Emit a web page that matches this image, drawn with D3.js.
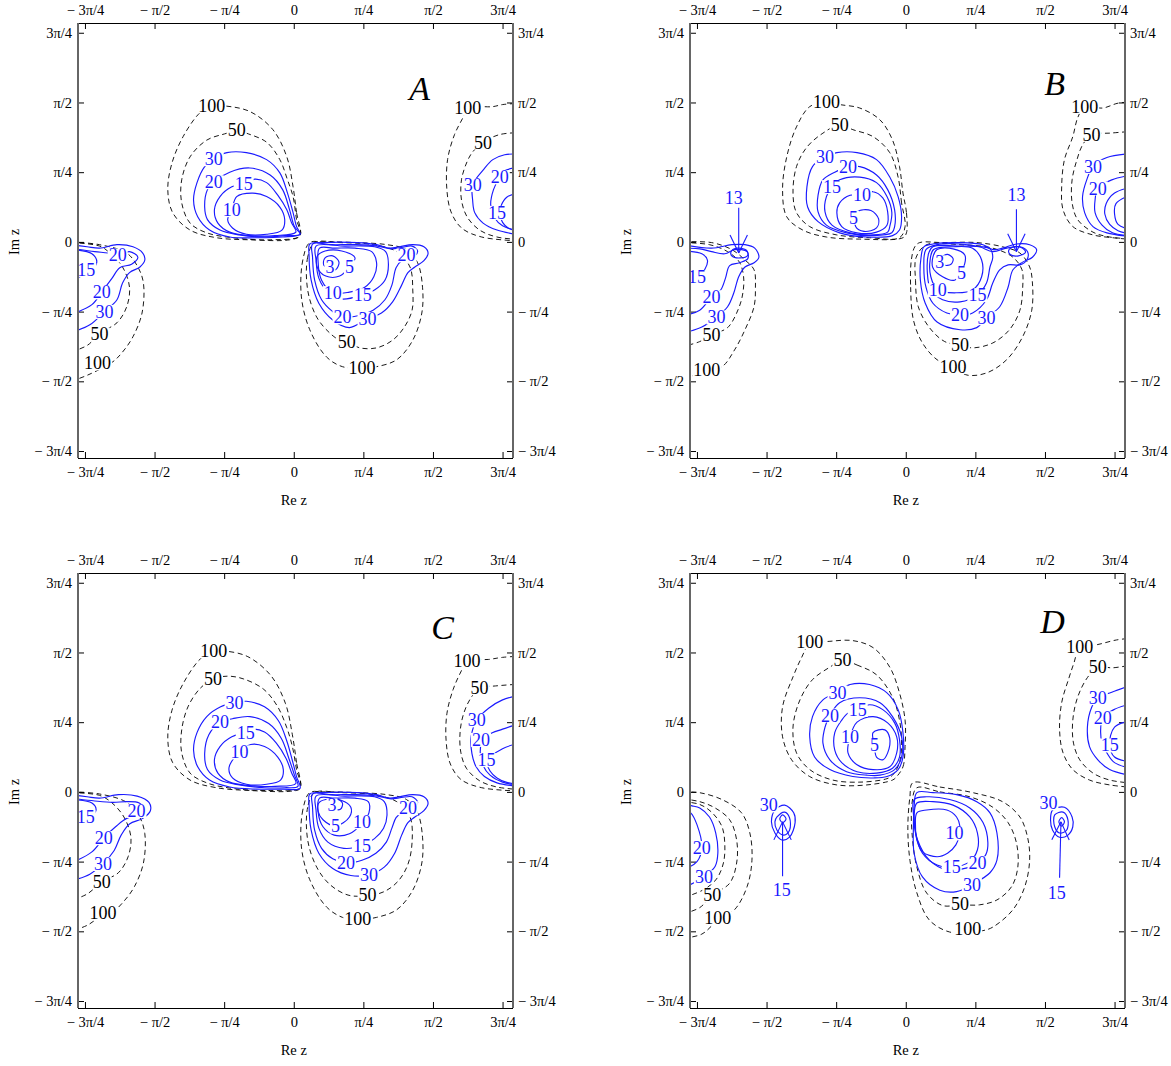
<!DOCTYPE html>
<html><head><meta charset="utf-8">
<script src="https://cdn.jsdelivr.net/npm/d3@7"></script>
<style>
body{margin:0;background:#fff}
svg{font-family:"Liberation Serif","Times New Roman",serif}
</style></head><body>
<svg id="chart" width="1171" height="1066"></svg>
<script>
// all coordinates are in units of pi/4
var tickVals = [-3,-2,-1,0,1,2,3];
var tickLabels = ["\u2212 3\u03c0/4","\u2212 \u03c0/2","\u2212 \u03c0/4","0","\u03c0/4","\u03c0/2","3\u03c0/4"];
var panelNames = ["A","B","C","D"];
var letterPos = [[1.81,2.21],[2.14,2.28],[2.14,2.37],[2.11,2.45]];

var contoursA = [
  // upper lobe
  {level:100, closed:true, labels:[[-1.18,1.95]], pts:[[0.09,0.09],[0.04,0.42],[-0.01,0.79],[-0.10,1.22],[-0.30,1.61],[-0.63,1.87],[-0.99,1.95],[-1.18,1.95],[-1.35,1.85],[-1.59,1.51],[-1.75,1.13],[-1.81,0.75],[-1.74,0.42],[-1.49,0.17],[-1.11,0.06],[-0.63,0.03],[-0.06,0.03]]},
  {level:50, closed:true, labels:[[-0.82,1.61]], pts:[[0.09,0.09],[0.04,0.32],[-0.01,0.65],[-0.09,0.89],[-0.20,1.18],[-0.39,1.43],[-0.68,1.56],[-0.82,1.61],[-0.96,1.56],[-1.25,1.46],[-1.49,1.22],[-1.61,0.89],[-1.61,0.56],[-1.49,0.27],[-1.25,0.13],[-0.88,0.06],[-0.34,0.03]]},
  {level:30, closed:true, labels:[[-1.15,1.19]], pts:[[0.09,0.11],[0.04,0.22],[-0.01,0.42],[-0.09,0.70],[-0.20,0.99],[-0.39,1.18],[-0.68,1.28],[-0.96,1.28],[-1.15,1.19],[-1.28,1.08],[-1.39,0.85],[-1.44,0.60],[-1.38,0.36],[-1.21,0.17],[-0.92,0.07],[-0.53,0.06],[-0.16,0.07]]},
  {level:20, closed:true, labels:[[-1.15,0.86]], pts:[[0.09,0.11],[0.01,0.22],[-0.06,0.46],[-0.16,0.75],[-0.34,0.96],[-0.63,1.06],[-0.92,1.00],[-1.15,0.86],[-1.24,0.75],[-1.28,0.50],[-1.24,0.32],[-1.06,0.17],[-0.78,0.10],[-0.42,0.07],[-0.13,0.09]]},
  {level:15, closed:true, labels:[[-0.72,0.83]], pts:[[0.03,0.14],[-0.03,0.27],[-0.10,0.46],[-0.23,0.67],[-0.39,0.85],[-0.56,0.90],[-0.72,0.83],[-0.89,0.79],[-1.06,0.65],[-1.14,0.46],[-1.09,0.27],[-0.92,0.14],[-0.63,0.09],[-0.27,0.09]]},
  {level:10, closed:true, labels:[[-0.89,0.46]], pts:[[-0.82,0.65],[-0.59,0.70],[-0.39,0.65],[-0.20,0.50],[-0.13,0.32],[-0.17,0.17],[-0.39,0.11],[-0.68,0.11],[-0.88,0.20],[-0.95,0.32],[-0.89,0.46]]},
  // lower lobe
  {level:100, closed:true, labels:[[0.98,-1.81]], pts:[[0.23,-0.01],[0.13,-0.26],[0.11,-0.79],[0.23,-1.26],[0.47,-1.65],[0.70,-1.79],[0.98,-1.81],[1.19,-1.79],[1.48,-1.69],[1.71,-1.41],[1.84,-1.02],[1.85,-0.65],[1.78,-0.30],[1.62,-0.11],[1.34,-0.04],[0.91,-0.01],[0.42,0.0]]},
  {level:50, closed:true, labels:[[0.76,-1.43]], pts:[[0.30,-0.01],[0.20,-0.22],[0.20,-0.69],[0.33,-1.08],[0.52,-1.31],[0.66,-1.41],[0.76,-1.43],[0.95,-1.52],[1.19,-1.52],[1.42,-1.41],[1.59,-1.22],[1.70,-0.98],[1.71,-0.69],[1.67,-0.36],[1.48,-0.14],[1.14,-0.04],[0.66,-0.01]]},
  {level:30, closed:true, labels:[[1.06,-1.10]], pts:[[0.23,-0.03],[0.22,-0.19],[0.25,-0.55],[0.36,-0.88],[0.56,-1.12],[0.80,-1.23],[1.06,-1.10],[1.26,-1.02],[1.42,-0.86],[1.55,-0.62],[1.64,-0.44],[1.74,-0.36],[1.87,-0.27],[1.93,-0.16],[1.87,-0.07],[1.71,-0.04],[1.52,-0.07],[1.38,-0.09],[1.19,-0.04],[0.91,-0.01],[0.42,-0.01]]},
  {level:20, closed:true, labels:[[0.70,-1.08],[1.62,-0.19]], pts:[[0.27,-0.03],[0.27,-0.22],[0.30,-0.55],[0.40,-0.83],[0.56,-1.00],[0.70,-1.08],[0.92,-1.06],[1.14,-0.98],[1.31,-0.83],[1.41,-0.62],[1.47,-0.37],[1.55,-0.27],[1.70,-0.23],[1.78,-0.13],[1.70,-0.06],[1.55,-0.08],[1.40,-0.10],[1.20,-0.06],[0.90,-0.04],[0.55,-0.04]]},
  {level:15, closed:true, labels:[[0.99,-0.76]], pts:[[0.32,-0.06],[0.32,-0.26],[0.36,-0.52],[0.49,-0.72],[0.69,-0.82],[0.99,-0.76],[1.16,-0.69],[1.31,-0.55],[1.36,-0.33],[1.32,-0.14],[1.16,-0.07],[0.73,-0.06]]},
  {level:10, closed:true, labels:[[0.56,-0.73]], pts:[[0.37,-0.09],[0.35,-0.29],[0.40,-0.55],[0.56,-0.73],[0.80,-0.72],[1.02,-0.65],[1.15,-0.50],[1.19,-0.30],[1.12,-0.14],[0.88,-0.09],[0.59,-0.09]]},
  {level:5, closed:true, labels:[[0.80,-0.36]], pts:[[0.34,-0.20],[0.45,-0.13],[0.69,-0.13],[0.88,-0.23],[0.80,-0.36],[0.66,-0.49],[0.46,-0.49],[0.34,-0.37]]},
  {level:3, closed:true, labels:[[0.52,-0.36]], pts:[[0.45,-0.23],[0.56,-0.20],[0.65,-0.29],[0.60,-0.40],[0.52,-0.38],[0.43,-0.33]]},
  // left edge
  {level:100, closed:false, labels:[[-2.82,-1.74]], pts:[[-3.2,0.0],[-2.79,-0.04],[-2.40,-0.16],[-2.24,-0.36],[-2.16,-0.59],[-2.18,-1.02],[-2.31,-1.36],[-2.46,-1.58],[-2.60,-1.72],[-2.96,-1.91],[-3.2,-2.0]]},
  {level:50, closed:false, labels:[[-2.79,-1.32]], pts:[[-3.2,-0.01],[-2.79,-0.06],[-2.64,-0.16],[-2.46,-0.36],[-2.36,-0.65],[-2.40,-0.93],[-2.54,-1.16],[-2.79,-1.31],[-2.96,-1.48],[-3.2,-1.58]]},
  {level:30, closed:false, labels:[[-2.72,-1.00]], pts:[[-3.2,-0.04],[-2.97,-0.07],[-2.79,-0.09],[-2.54,-0.04],[-2.31,-0.07],[-2.17,-0.16],[-2.14,-0.26],[-2.21,-0.36],[-2.36,-0.44],[-2.46,-0.59],[-2.54,-0.83],[-2.72,-1.00],[-2.93,-1.19],[-3.2,-1.30]]},
  {level:20, closed:false, labels:[[-2.53,-0.19],[-2.76,-0.72]], pts:[[-3.2,-0.09],[-2.86,-0.14],[-2.67,-0.16],[-2.53,-0.19],[-2.36,-0.14],[-2.24,-0.22],[-2.33,-0.32],[-2.50,-0.37],[-2.61,-0.52],[-2.76,-0.72],[-2.90,-0.90],[-3.2,-1.04]]},
  {level:15, closed:false, labels:[[-2.98,-0.40]], pts:[[-3.2,-0.11],[-2.90,-0.17],[-2.83,-0.29],[-2.92,-0.42],[-3.2,-0.55]]},
  // right edge
  {level:100, closed:false, labels:[[2.50,1.92]], pts:[[3.3,1.99],[3.00,1.97],[2.86,1.94],[2.50,1.92],[2.43,1.78],[2.31,1.54],[2.21,1.18],[2.20,0.75],[2.26,0.43],[2.41,0.20],[2.70,0.07],[3.3,0.01]]},
  {level:50, closed:false, labels:[[2.72,1.43]], pts:[[3.3,1.57],[2.96,1.54],[2.72,1.43],[2.57,1.29],[2.49,1.15],[2.41,0.89],[2.41,0.60],[2.49,0.36],[2.67,0.17],[2.92,0.07],[3.3,0.03]]},
  {level:30, closed:false, labels:[[2.57,0.82]], pts:[[3.3,1.26],[3.03,1.25],[2.86,1.18],[2.72,1.03],[2.57,0.82],[2.57,0.60],[2.60,0.42],[2.72,0.27],[2.92,0.17],[3.3,0.09]]},
  {level:20, closed:false, labels:[[2.96,0.93]], pts:[[3.3,1.08],[3.03,1.02],[2.96,0.93],[2.87,0.75],[2.83,0.53],[2.89,0.34],[3.00,0.23],[3.3,0.14]]},
  {level:15, closed:false, labels:[[2.92,0.42]], pts:[[3.3,0.72],[3.06,0.64],[2.98,0.52],[2.96,0.40],[3.00,0.28],[3.08,0.20],[3.3,0.12]]}
];

var contoursB = [
  // upper lobe
  {level:100, closed:true, labels:[[-1.14,2.01]], pts:[[0.01,0.13],[0.01,0.42],[-0.04,0.70],[-0.09,1.08],[-0.19,1.46],[-0.37,1.75],[-0.66,1.92],[-0.95,1.97],[-1.14,2.01],[-1.38,1.94],[-1.57,1.65],[-1.71,1.22],[-1.77,0.75],[-1.71,0.36],[-1.48,0.17],[-1.14,0.07],[-0.66,0.04],[-0.04,0.06]]},
  {level:50, closed:true, labels:[[-0.95,1.68]], pts:[[-0.01,0.22],[-0.06,0.56],[-0.11,0.93],[-0.23,1.28],[-0.47,1.51],[-0.76,1.61],[-0.95,1.68],[-1.19,1.56],[-1.42,1.36],[-1.57,1.08],[-1.62,0.70],[-1.57,0.42],[-1.38,0.22],[-0.99,0.10],[-0.52,0.06],[-0.09,0.06]]},
  {level:30, closed:true, labels:[[-1.16,1.22]], pts:[[-1.16,1.22],[-0.99,1.28],[-0.70,1.28],[-0.42,1.18],[-0.23,0.93],[-0.11,0.65],[-0.06,0.36],[-0.09,0.17],[-0.19,0.09],[-0.56,0.07],[-0.95,0.13],[-1.26,0.29],[-1.41,0.50],[-1.42,0.79],[-1.34,1.08]]},
  {level:20, closed:true, labels:[[-0.83,1.08]], pts:[[-0.83,1.08],[-0.66,1.08],[-0.42,0.96],[-0.26,0.75],[-0.16,0.46],[-0.16,0.22],[-0.20,0.13],[-0.47,0.09],[-0.85,0.13],[-1.14,0.24],[-1.26,0.43],[-1.26,0.67],[-1.19,0.89],[-1.02,1.00]]},
  {level:15, closed:true, labels:[[-1.06,0.79]], pts:[[-1.06,0.79],[-0.95,0.89],[-0.66,0.93],[-0.42,0.85],[-0.27,0.65],[-0.20,0.42],[-0.23,0.22],[-0.26,0.14],[-0.47,0.10],[-0.80,0.13],[-1.06,0.24],[-1.16,0.43],[-1.14,0.65]]},
  {level:10, closed:true, labels:[[-0.63,0.67]], pts:[[-0.63,0.67],[-0.47,0.72],[-0.33,0.63],[-0.26,0.43],[-0.27,0.24],[-0.42,0.14],[-0.70,0.13],[-0.92,0.22],[-0.99,0.42],[-0.95,0.56],[-0.80,0.67]]},
  {level:5, closed:true, labels:[[-0.75,0.35]], pts:[[-0.70,0.43],[-0.50,0.45],[-0.39,0.33],[-0.42,0.20],[-0.60,0.15],[-0.72,0.22]]},
  // lower lobe
  {level:100, closed:true, labels:[[0.68,-1.79]], pts:[[0.08,-0.26],[0.07,-0.65],[0.11,-1.12],[0.24,-1.45],[0.45,-1.69],[0.68,-1.79],[0.88,-1.91],[1.16,-1.88],[1.45,-1.69],[1.68,-1.36],[1.81,-0.98],[1.82,-0.59],[1.78,-0.36],[1.64,-0.16],[1.39,-0.07],[1.02,-0.01],[0.53,-0.01],[0.20,-0.01],[0.13,-0.07]]},
  {level:50, closed:true, labels:[[0.78,-1.48]], pts:[[0.15,-0.22],[0.14,-0.55],[0.18,-0.93],[0.34,-1.23],[0.56,-1.43],[0.78,-1.48],[0.96,-1.52],[1.25,-1.45],[1.49,-1.26],[1.64,-0.98],[1.68,-0.65],[1.67,-0.40],[1.54,-0.22],[1.25,-0.09],[0.78,-0.04],[0.30,-0.04]]},
  {level:30, closed:true, labels:[[1.16,-1.09]], pts:[[0.39,-0.03],[0.26,-0.07],[0.22,-0.22],[0.21,-0.55],[0.28,-0.88],[0.45,-1.15],[0.78,-1.26],[1.02,-1.23],[1.16,-1.09],[1.35,-0.93],[1.47,-0.65],[1.54,-0.40],[1.68,-0.29],[1.82,-0.22],[1.88,-0.11],[1.78,-0.04],[1.59,-0.03],[1.39,-0.09],[1.25,-0.11],[1.11,-0.04],[0.78,-0.01]]},
  {level:20, closed:true, labels:[[0.78,-1.05]], pts:[[0.78,-1.05],[0.96,-1.02],[1.16,-0.83],[1.25,-0.59],[1.35,-0.40],[1.47,-0.33],[1.64,-0.33],[1.74,-0.26],[1.75,-0.14],[1.64,-0.07],[1.45,-0.09],[1.25,-0.14],[1.06,-0.07],[0.78,-0.03],[0.45,-0.04],[0.29,-0.11],[0.26,-0.36],[0.29,-0.65],[0.39,-0.88],[0.59,-1.02]]},
  {level:15, closed:true, labels:[[1.03,-0.76]], pts:[[0.33,-0.16],[0.31,-0.44],[0.36,-0.69],[0.53,-0.83],[0.78,-0.86],[1.03,-0.76],[1.16,-0.59],[1.21,-0.36],[1.25,-0.22],[1.21,-0.10],[0.78,-0.06],[0.39,-0.07]]},
  {level:10, closed:true, labels:[[0.46,-0.69]], pts:[[0.46,-0.69],[0.36,-0.50],[0.35,-0.26],[0.40,-0.11],[0.68,-0.07],[0.96,-0.09],[1.09,-0.26],[1.09,-0.50],[0.96,-0.69],[0.73,-0.73]]},
  {level:5, closed:true, labels:[[0.80,-0.44]], pts:[[0.39,-0.22],[0.45,-0.11],[0.68,-0.10],[0.85,-0.19],[0.80,-0.44],[0.70,-0.55],[0.53,-0.50],[0.39,-0.37]]},
  {level:3, closed:true, labels:[[0.49,-0.29]], pts:[[0.52,-0.22],[0.60,-0.18],[0.68,-0.24],[0.65,-0.32],[0.55,-0.33]]},
  {level:13, closed:true, labels:[], pts:[[1.48,-0.12],[1.56,-0.07],[1.68,-0.09],[1.72,-0.15],[1.62,-0.20],[1.50,-0.18]]},
  // left edge
  {level:100, closed:false, labels:[[-2.86,-1.84]], pts:[[-3.2,0.0],[-2.79,-0.01],[-2.50,-0.11],[-2.31,-0.26],[-2.18,-0.40],[-2.16,-0.65],[-2.18,-0.93],[-2.31,-1.26],[-2.46,-1.55],[-2.64,-1.79],[-2.86,-1.84],[-3.2,-1.98]]},
  {level:50, closed:false, labels:[[-2.79,-1.33]], pts:[[-3.2,-0.01],[-2.82,-0.04],[-2.56,-0.14],[-2.39,-0.29],[-2.33,-0.50],[-2.34,-0.73],[-2.40,-0.95],[-2.56,-1.23],[-2.79,-1.33],[-2.96,-1.43],[-3.2,-1.50]]},
  {level:30, closed:false, labels:[[-2.72,-1.08]], pts:[[-3.2,-0.04],[-2.79,-0.09],[-2.50,-0.04],[-2.31,-0.04],[-2.17,-0.09],[-2.11,-0.22],[-2.18,-0.30],[-2.31,-0.36],[-2.40,-0.50],[-2.47,-0.73],[-2.56,-0.93],[-2.72,-1.08],[-2.93,-1.22],[-3.2,-1.31]]},
  {level:20, closed:false, labels:[[-2.79,-0.79]], pts:[[-3.2,-0.09],[-2.96,-0.10],[-2.79,-0.14],[-2.60,-0.17],[-2.46,-0.11],[-2.28,-0.14],[-2.27,-0.24],[-2.39,-0.30],[-2.53,-0.34],[-2.59,-0.52],[-2.66,-0.69],[-2.79,-0.79],[-2.96,-0.98],[-3.2,-1.06]]},
  {level:15, closed:false, labels:[[-3.00,-0.50]], pts:[[-3.2,-0.13],[-2.93,-0.17],[-2.85,-0.26],[-2.89,-0.40],[-3.00,-0.50],[-3.2,-0.64]]},
  {level:13, closed:true, labels:[], pts:[[-2.51,-0.14],[-2.42,-0.09],[-2.29,-0.12],[-2.27,-0.19],[-2.38,-0.23],[-2.50,-0.20]]},
  // right edge
  {level:100, closed:false, labels:[[2.57,1.94]], pts:[[3.3,2.01],[3.05,1.99],[2.83,1.92],[2.57,1.94],[2.47,1.78],[2.40,1.51],[2.28,1.18],[2.24,0.79],[2.26,0.46],[2.40,0.22],[2.69,0.10],[2.97,0.06],[3.3,0.03]]},
  {level:50, closed:false, labels:[[2.67,1.54]], pts:[[3.3,1.59],[2.93,1.56],[2.67,1.54],[2.54,1.39],[2.46,1.18],[2.39,0.89],[2.39,0.56],[2.47,0.32],[2.69,0.14],[2.93,0.07],[3.3,0.04]]},
  {level:30, closed:false, labels:[[2.69,1.08]], pts:[[3.3,1.27],[2.89,1.21],[2.69,1.08],[2.60,0.89],[2.54,0.65],[2.57,0.42],[2.69,0.22],[2.89,0.13],[3.3,0.07]]},
  {level:20, closed:false, labels:[[2.76,0.77]], pts:[[3.3,0.97],[2.96,0.89],[2.76,0.77],[2.72,0.60],[2.72,0.42],[2.82,0.24],[2.97,0.13],[3.3,0.08]]},
  {level:15, closed:false, labels:[], pts:[[3.3,0.80],[3.00,0.70],[2.88,0.55],[2.86,0.40],[2.93,0.25],[3.05,0.16],[3.3,0.10]]},
  {level:10, closed:false, labels:[], pts:[[3.3,0.70],[3.02,0.55],[3.00,0.40],[3.05,0.25],[3.3,0.16]]}
];

var contoursC = [
  // upper lobe
  {level:100, closed:true, labels:[[-1.15,2.02]], pts:[[0.09,0.05],[0.04,0.42],[-0.02,0.82],[-0.12,1.27],[-0.33,1.67],[-0.66,1.94],[-0.98,2.02],[-1.15,2.02],[-1.33,1.92],[-1.58,1.57],[-1.75,1.17],[-1.81,0.77],[-1.74,0.42],[-1.49,0.17],[-1.11,0.06],[-0.63,0.02],[-0.05,0.01]]},
  {level:50, closed:true, labels:[[-1.16,1.62]], pts:[[0.09,0.06],[0.04,0.32],[-0.02,0.65],[-0.10,0.92],[-0.23,1.22],[-0.43,1.47],[-0.72,1.62],[-0.95,1.66],[-1.16,1.62],[-1.35,1.48],[-1.52,1.22],[-1.61,0.89],[-1.61,0.56],[-1.49,0.27],[-1.25,0.13],[-0.88,0.05],[-0.34,0.02]]},
  {level:30, closed:true, labels:[[-0.85,1.28]], pts:[[0.09,0.05],[0.04,0.22],[-0.02,0.45],[-0.10,0.73],[-0.22,1.02],[-0.42,1.22],[-0.68,1.30],[-0.85,1.28],[-1.05,1.22],[-1.25,1.08],[-1.39,0.85],[-1.44,0.60],[-1.38,0.36],[-1.21,0.17],[-0.92,0.07],[-0.53,0.04],[-0.16,0.04]]},
  {level:20, closed:true, labels:[[-1.06,1.00]], pts:[[0.06,0.08],[0.01,0.24],[-0.07,0.48],[-0.18,0.77],[-0.36,0.98],[-0.63,1.08],[-0.88,1.05],[-1.06,1.00],[-1.22,0.82],[-1.28,0.55],[-1.24,0.32],[-1.06,0.17],[-0.78,0.10],[-0.42,0.06],[-0.13,0.06]]},
  {level:15, closed:true, labels:[[-0.69,0.85]], pts:[[0.03,0.12],[-0.03,0.27],[-0.11,0.48],[-0.25,0.70],[-0.42,0.86],[-0.59,0.90],[-0.69,0.85],[-0.89,0.79],[-1.06,0.65],[-1.14,0.46],[-1.09,0.27],[-0.92,0.14],[-0.63,0.09],[-0.27,0.08]]},
  {level:10, closed:true, labels:[[-0.78,0.57]], pts:[[-0.78,0.57],[-0.62,0.68],[-0.42,0.65],[-0.23,0.50],[-0.15,0.32],[-0.19,0.17],[-0.39,0.11],[-0.68,0.11],[-0.88,0.20],[-0.93,0.35]]},
  // lower lobe
  {level:100, closed:true, labels:[[0.92,-1.82]], pts:[[0.23,-0.01],[0.13,-0.26],[0.11,-0.79],[0.23,-1.26],[0.47,-1.65],[0.70,-1.80],[0.92,-1.83],[1.19,-1.80],[1.48,-1.69],[1.71,-1.41],[1.84,-1.02],[1.85,-0.65],[1.78,-0.30],[1.62,-0.11],[1.34,-0.04],[0.91,-0.01],[0.42,0.0]]},
  {level:50, closed:true, labels:[[1.06,-1.47]], pts:[[0.30,-0.01],[0.20,-0.22],[0.20,-0.69],[0.33,-1.08],[0.52,-1.33],[0.78,-1.48],[1.06,-1.49],[1.30,-1.43],[1.50,-1.28],[1.64,-1.04],[1.70,-0.72],[1.67,-0.36],[1.48,-0.14],[1.14,-0.04],[0.66,-0.01]]},
  {level:30, closed:true, labels:[[1.08,-1.19]], pts:[[0.23,-0.03],[0.22,-0.19],[0.25,-0.55],[0.36,-0.88],[0.56,-1.10],[0.82,-1.20],[1.08,-1.19],[1.30,-1.08],[1.45,-0.88],[1.55,-0.62],[1.64,-0.44],[1.74,-0.36],[1.87,-0.27],[1.93,-0.16],[1.87,-0.07],[1.71,-0.04],[1.52,-0.07],[1.38,-0.09],[1.19,-0.04],[0.91,-0.01],[0.42,-0.01]]},
  {level:20, closed:true, labels:[[0.75,-1.01],[1.64,-0.23]], pts:[[0.27,-0.03],[0.27,-0.22],[0.30,-0.55],[0.40,-0.81],[0.56,-0.96],[0.75,-1.02],[0.98,-0.98],[1.18,-0.88],[1.33,-0.72],[1.41,-0.52],[1.47,-0.37],[1.55,-0.30],[1.70,-0.26],[1.78,-0.15],[1.70,-0.07],[1.55,-0.08],[1.40,-0.10],[1.20,-0.06],[0.90,-0.04],[0.55,-0.04]]},
  {level:15, closed:true, labels:[[0.98,-0.77]], pts:[[0.32,-0.06],[0.32,-0.26],[0.36,-0.52],[0.49,-0.72],[0.72,-0.81],[0.98,-0.77],[1.16,-0.67],[1.29,-0.52],[1.34,-0.33],[1.30,-0.14],[1.16,-0.07],[0.73,-0.06]]},
  {level:10, closed:true, labels:[[0.98,-0.43]], pts:[[0.37,-0.09],[0.35,-0.29],[0.42,-0.50],[0.58,-0.62],[0.80,-0.60],[0.98,-0.45],[1.08,-0.30],[1.07,-0.14],[0.88,-0.09],[0.59,-0.09]]},
  {level:5, closed:true, labels:[[0.60,-0.49]], pts:[[0.36,-0.16],[0.46,-0.11],[0.68,-0.12],[0.82,-0.22],[0.80,-0.36],[0.60,-0.49],[0.42,-0.40],[0.35,-0.28]]},
  {level:3, closed:true, labels:[[0.55,-0.19]], pts:[[0.52,-0.13],[0.62,-0.10],[0.70,-0.16],[0.67,-0.25],[0.57,-0.24]]},
  // left edge
  {level:100, closed:false, labels:[[-2.74,-1.74]], pts:[[-3.2,0.0],[-2.79,-0.03],[-2.40,-0.15],[-2.22,-0.35],[-2.14,-0.60],[-2.16,-1.02],[-2.29,-1.36],[-2.45,-1.58],[-2.60,-1.72],[-2.74,-1.76],[-2.96,-1.91],[-3.2,-2.0]]},
  {level:50, closed:false, labels:[[-2.76,-1.29]], pts:[[-3.2,-0.01],[-2.79,-0.05],[-2.62,-0.15],[-2.44,-0.36],[-2.34,-0.65],[-2.38,-0.93],[-2.52,-1.16],[-2.76,-1.29],[-2.96,-1.46],[-3.2,-1.56]]},
  {level:30, closed:false, labels:[[-2.74,-1.03]], pts:[[-3.2,-0.04],[-2.97,-0.07],[-2.79,-0.09],[-2.52,-0.04],[-2.25,-0.06],[-2.08,-0.15],[-2.06,-0.27],[-2.17,-0.38],[-2.36,-0.46],[-2.48,-0.62],[-2.58,-0.84],[-2.74,-1.03],[-2.93,-1.18],[-3.2,-1.28]]},
  {level:20, closed:false, labels:[[-2.26,-0.27],[-2.73,-0.66]], pts:[[-3.2,-0.09],[-2.86,-0.13],[-2.60,-0.15],[-2.40,-0.14],[-2.22,-0.16],[-2.14,-0.26],[-2.22,-0.34],[-2.40,-0.38],[-2.56,-0.50],[-2.73,-0.66],[-2.90,-0.86],[-3.2,-1.02]]},
  {level:15, closed:false, labels:[[-2.99,-0.36]], pts:[[-3.2,-0.11],[-2.90,-0.16],[-2.84,-0.26],[-2.92,-0.36],[-3.2,-0.50]]},
  // right edge
  {level:100, closed:false, labels:[[2.49,1.88]], pts:[[3.3,1.95],[3.00,1.93],[2.80,1.90],[2.49,1.88],[2.40,1.72],[2.29,1.47],[2.20,1.12],[2.19,0.72],[2.25,0.40],[2.40,0.18],[2.70,0.06],[3.3,0.01]]},
  {level:50, closed:false, labels:[[2.67,1.49]], pts:[[3.3,1.55],[2.90,1.52],[2.67,1.49],[2.54,1.34],[2.44,1.12],[2.39,0.86],[2.40,0.57],[2.48,0.34],[2.67,0.16],[2.92,0.07],[3.3,0.03]]},
  {level:30, closed:false, labels:[[2.63,1.03]], pts:[[3.3,1.40],[3.00,1.32],[2.80,1.20],[2.63,1.03],[2.55,0.80],[2.56,0.55],[2.62,0.36],[2.74,0.22],[2.92,0.13],[3.3,0.07]]},
  {level:20, closed:false, labels:[[2.69,0.75]], pts:[[3.3,1.00],[3.00,0.90],[2.80,0.82],[2.70,0.70],[2.68,0.55],[2.72,0.38],[2.82,0.24],[3.00,0.14],[3.3,0.09]]},
  {level:15, closed:false, labels:[[2.77,0.46]], pts:[[3.3,0.72],[3.00,0.62],[2.85,0.52],[2.78,0.42],[2.82,0.30],[2.92,0.20],[3.05,0.14],[3.3,0.10]]}
];

var contoursD = [
  // upper lobe
  {level:100, closed:true, labels:[[-1.38,2.15]], pts:[[-0.13,0.22],[-0.04,0.36],[-0.01,0.65],[-0.01,1.03],[-0.09,1.42],[-0.23,1.79],[-0.47,2.07],[-0.76,2.17],[-1.09,2.16],[-1.38,2.12],[-1.50,1.92],[-1.62,1.65],[-1.77,1.22],[-1.77,0.79],[-1.64,0.46],[-1.38,0.22],[-0.99,0.10],[-0.56,0.10],[-0.19,0.17]]},
  {level:50, closed:true, labels:[[-0.91,1.89]], pts:[[-0.91,1.89],[-0.70,1.82],[-0.42,1.68],[-0.19,1.36],[-0.09,1.03],[-0.06,0.70],[-0.09,0.42],[-0.19,0.24],[-0.27,0.19],[-0.66,0.14],[-1.05,0.17],[-1.38,0.32],[-1.57,0.56],[-1.62,0.93],[-1.52,1.32],[-1.34,1.61],[-1.09,1.79]]},
  {level:30, closed:true, labels:[[-0.98,1.43]], pts:[[-0.98,1.43],[-0.80,1.54],[-0.52,1.54],[-0.27,1.42],[-0.11,1.18],[-0.04,0.85],[-0.04,0.50],[-0.11,0.32],[-0.27,0.22],[-0.47,0.20],[-0.76,0.22],[-1.09,0.32],[-1.31,0.50],[-1.38,0.79],[-1.34,1.08],[-1.19,1.32]]},
  {level:20, closed:true, labels:[[-1.09,1.10]], pts:[[-1.09,1.10],[-0.95,1.28],[-0.66,1.35],[-0.37,1.28],[-0.19,1.08],[-0.06,0.79],[-0.06,0.50],[-0.16,0.32],[-0.37,0.24],[-0.56,0.24],[-0.85,0.29],[-1.09,0.46],[-1.19,0.70],[-1.16,0.93]]},
  {level:15, closed:true, labels:[[-0.69,1.18]], pts:[[-0.69,1.18],[-0.52,1.25],[-0.33,1.18],[-0.16,0.99],[-0.09,0.75],[-0.09,0.50],[-0.19,0.34],[-0.42,0.27],[-0.70,0.29],[-0.92,0.42],[-1.02,0.60],[-1.02,0.85],[-0.92,1.03],[-0.83,1.13]]},
  {level:10, closed:true, labels:[[-0.80,0.79]], pts:[[-0.80,0.79],[-0.70,1.00],[-0.47,1.08],[-0.26,0.99],[-0.13,0.79],[-0.13,0.56],[-0.23,0.36],[-0.47,0.32],[-0.70,0.39],[-0.83,0.56]]},
  {level:5, closed:true, labels:[[-0.45,0.67]], pts:[[-0.45,0.67],[-0.47,0.85],[-0.30,0.89],[-0.23,0.77],[-0.26,0.56],[-0.33,0.46],[-0.42,0.50]]},
  // lower lobe
  {level:100, closed:true, labels:[[0.89,-1.96]], pts:[[0.10,0.13],[0.49,0.07],[0.96,-0.01],[1.39,-0.14],[1.64,-0.36],[1.75,-0.65],[1.78,-0.98],[1.71,-1.36],[1.54,-1.69],[1.25,-1.94],[1.11,-1.99],[0.89,-2.01],[0.63,-2.01],[0.34,-1.84],[0.16,-1.45],[0.06,-0.98],[0.03,-0.50],[0.06,-0.07]]},
  {level:50, closed:true, labels:[[0.78,-1.60]], pts:[[0.16,0.06],[0.49,0.0],[0.92,-0.07],[1.25,-0.22],[1.47,-0.44],[1.59,-0.73],[1.61,-1.08],[1.52,-1.36],[1.31,-1.55],[1.06,-1.62],[0.78,-1.62],[0.53,-1.63],[0.30,-1.45],[0.16,-1.08],[0.09,-0.59],[0.09,-0.16]]},
  {level:30, closed:true, labels:[[0.95,-1.33]], pts:[[0.16,-0.01],[0.39,-0.01],[0.73,-0.04],[1.02,-0.14],[1.21,-0.30],[1.31,-0.59],[1.31,-0.98],[1.21,-1.16],[0.95,-1.33],[0.73,-1.43],[0.49,-1.41],[0.24,-1.22],[0.12,-0.88],[0.11,-0.50],[0.12,-0.22]]},
  {level:20, closed:true, labels:[[1.03,-1.02]], pts:[[0.12,-0.11],[0.30,-0.07],[0.63,-0.11],[0.92,-0.23],[1.11,-0.44],[1.18,-0.73],[1.15,-0.90],[1.03,-1.02],[0.88,-1.09],[0.59,-1.12],[0.34,-0.98],[0.17,-0.69],[0.12,-0.40]]},
  {level:15, closed:true, labels:[[0.66,-1.08]], pts:[[0.16,-0.16],[0.39,-0.14],[0.68,-0.19],[0.92,-0.36],[1.03,-0.59],[1.03,-0.83],[0.92,-1.00],[0.66,-1.08],[0.45,-1.05],[0.24,-0.88],[0.14,-0.59],[0.12,-0.36]]},
  {level:10, closed:true, labels:[[0.70,-0.59]], pts:[[0.16,-0.30],[0.30,-0.26],[0.59,-0.26],[0.73,-0.36],[0.78,-0.50],[0.77,-0.62],[0.72,-0.76],[0.60,-0.88],[0.45,-0.93],[0.24,-0.86],[0.16,-0.69],[0.14,-0.50]]},
  // left edge
  {level:100, closed:false, labels:[[-2.70,-1.81]], pts:[[-3.2,0.0],[-2.97,-0.01],[-2.64,-0.11],[-2.36,-0.30],[-2.24,-0.59],[-2.21,-0.98],[-2.28,-1.36],[-2.46,-1.69],[-2.70,-1.84],[-2.93,-2.04],[-3.2,-2.1]]},
  {level:50, closed:false, labels:[[-2.78,-1.48]], pts:[[-3.2,-0.10],[-2.96,-0.14],[-2.74,-0.23],[-2.53,-0.40],[-2.43,-0.69],[-2.43,-1.02],[-2.53,-1.31],[-2.78,-1.48],[-2.96,-1.66],[-3.2,-1.75]]},
  {level:40, closed:false, labels:[], pts:[[-3.2,-0.14],[-2.96,-0.18],[-2.78,-0.30],[-2.64,-0.50],[-2.60,-0.75],[-2.62,-1.02],[-2.72,-1.25],[-2.90,-1.40],[-3.2,-1.52]]},
  {level:30, closed:false, labels:[[-2.90,-1.22]], pts:[[-3.2,-0.18],[-3.07,-0.20],[-2.96,-0.23],[-2.82,-0.36],[-2.73,-0.59],[-2.70,-0.88],[-2.74,-1.07],[-2.90,-1.22],[-3.2,-1.38]]},
  {level:20, closed:false, labels:[[-2.93,-0.80]], pts:[[-3.2,-0.25],[-3.09,-0.30],[-3.00,-0.47],[-2.93,-0.80],[-3.00,-1.00],[-3.2,-1.12]]},
  // isolated loops
  {level:30, closed:true, labels:[[-1.97,-0.19]], pts:[[-1.88,-0.26],[-1.74,-0.19],[-1.61,-0.30],[-1.59,-0.44],[-1.67,-0.65],[-1.78,-0.69],[-1.88,-0.59],[-1.93,-0.43]]},
  {level:20, closed:true, labels:[], pts:[[-1.85,-0.36],[-1.74,-0.29],[-1.67,-0.37],[-1.67,-0.55],[-1.75,-0.62],[-1.85,-0.55],[-1.88,-0.43]]},
  {level:15, closed:true, labels:[], pts:[[-1.77,-0.33],[-1.72,-0.39],[-1.77,-0.44],[-1.81,-0.39]]},
  {level:30, closed:true, labels:[[2.05,-0.16]], pts:[[2.11,-0.26],[2.28,-0.22],[2.39,-0.36],[2.40,-0.50],[2.33,-0.62],[2.21,-0.65],[2.11,-0.55],[2.08,-0.40]]},
  {level:20, closed:true, labels:[], pts:[[2.14,-0.33],[2.26,-0.29],[2.33,-0.40],[2.31,-0.55],[2.21,-0.59],[2.14,-0.50]]},
  {level:15, closed:true, labels:[], pts:[[2.24,-0.37],[2.28,-0.43],[2.24,-0.49],[2.20,-0.43]]},
  // right edge
  {level:100, closed:false, labels:[[2.50,2.08]], pts:[[3.3,2.21],[3.03,2.18],[2.74,2.11],[2.50,2.08],[2.42,1.86],[2.34,1.62],[2.24,1.28],[2.21,0.89],[2.26,0.56],[2.40,0.32],[2.64,0.17],[2.93,0.10],[3.3,0.06]]},
  {level:50, closed:false, labels:[[2.76,1.79]], pts:[[3.3,1.83],[2.97,1.78],[2.76,1.79],[2.61,1.64],[2.47,1.36],[2.40,1.03],[2.41,0.70],[2.50,0.46],[2.69,0.27],[2.93,0.17],[3.3,0.12]]},
  {level:30, closed:false, labels:[[2.76,1.35]], pts:[[3.3,1.55],[2.96,1.43],[2.76,1.35],[2.67,1.21],[2.61,0.93],[2.64,0.65],[2.76,0.46],[2.93,0.32],[3.3,0.22]]},
  {level:20, closed:false, labels:[[2.83,1.06]], pts:[[3.3,1.28],[2.99,1.18],[2.83,1.06],[2.80,0.88],[2.82,0.70],[2.89,0.56],[3.00,0.42],[3.3,0.32]]},
  {level:15, closed:false, labels:[[2.93,0.67]], pts:[[3.3,1.03],[3.00,0.93],[2.93,0.67],[3.00,0.50],[3.3,0.42]]}
];

// arrows pointing at small loops: label, tip, tail, text position
var arrowsB = [
  {text:"13", tip:[1.59,-0.14], tail:[1.59,0.47], at:[1.59,0.67]},
  {text:"13", tip:[-2.40,-0.16], tail:[-2.40,0.49], at:[-2.47,0.63]}
];
var arrowsD = [
  {text:"15", tip:[-1.77,-0.43], tail:[-1.77,-1.21], at:[-1.78,-1.41]},
  {text:"15", tip:[2.23,-0.43], tail:[2.21,-1.23], at:[2.17,-1.45]}
];

var svg = d3.select("#chart");
var W = 435;
var BLUE = "#1a1aff";
var x = d3.scaleLinear().domain([-3.1, 3.15]).range([0, W]);
var y = d3.scaleLinear().domain([3.14, -3.1]).range([0, W]);

var panels = [
  {x0:78,  y0:23,  contours:contoursA, arrows:[]},
  {x0:690, y0:23,  contours:contoursB, arrows:arrowsB},
  {x0:78,  y0:573, contours:contoursC, arrows:[]},
  {x0:690, y0:573, contours:contoursD, arrows:arrowsD}
];

function fmt(d){ return tickLabels[tickVals.indexOf(d)]; }

panels.forEach(function(p, i){
  var g = svg.append("g").attr("transform", "translate(" + p.x0 + "," + p.y0 + ")");

  g.append("clipPath").attr("id", "clip" + i)
    .append("rect").attr("width", W).attr("height", W);

  // axes, ticks pointing inward
  var axes = [
    [d3.axisTop(x), 0, 0, 8],
    [d3.axisBottom(x), 0, W, 9],
    [d3.axisLeft(y), 0, 0, 6],
    [d3.axisRight(y), W, 0, 5]
  ];
  axes.forEach(function(a){
    var ax = g.append("g").attr("transform", "translate(" + a[1] + "," + a[2] + ")")
      .call(a[0].tickValues(tickVals).tickFormat(fmt).tickSizeInner(-6).tickSizeOuter(0).tickPadding(a[3]));
    ax.select(".domain").remove();
    ax.attr("font-family", null).attr("font-size", null);
    ax.selectAll("text").style("font-size", "14.5px");
    ax.selectAll("line").attr("stroke", "#000");
  });

  var plot = g.append("g").attr("clip-path", "url(#clip" + i + ")");

  p.contours.forEach(function(c){
    var line = d3.line().x(function(d){ return x(d[0]); }).y(function(d){ return y(d[1]); })
      .curve(c.closed ? d3.curveCatmullRomClosed.alpha(0.5) : d3.curveCatmullRom.alpha(0.5));
    var dashed = c.level >= 40;
    plot.append("path")
      .attr("d", line(c.pts))
      .attr("fill", "none")
      .attr("stroke", dashed ? "#000" : BLUE)
      .attr("stroke-width", dashed ? 0.9 : 1.15)
      .attr("stroke-dasharray", dashed ? "5,3.5" : null);
  });

  // arrows
  p.arrows.forEach(function(a){
    var tx = x(a.tip[0]), ty = y(a.tip[1]);
    var sx = x(a.tail[0]), sy = y(a.tail[1]);
    var ang = Math.atan2(sy - ty, sx - tx);
    var L = 20, spread = 0.45;
    plot.append("line").attr("x1", sx).attr("y1", sy).attr("x2", tx).attr("y2", ty)
      .attr("stroke", BLUE).attr("stroke-width", 1.1);
    [-spread, spread].forEach(function(s){
      plot.append("line").attr("x1", tx).attr("y1", ty)
        .attr("x2", tx + L * Math.cos(ang + s)).attr("y2", ty + L * Math.sin(ang + s))
        .attr("stroke", BLUE).attr("stroke-width", 1.1);
    });
    g.append("text").attr("x", x(a.at[0])).attr("y", y(a.at[1])).attr("dy", "0.35em")
      .attr("text-anchor", "middle").attr("font-size", 18).attr("fill", BLUE).text(a.text);
  });

  // contour labels with a white box behind
  p.contours.forEach(function(c){
    c.labels.forEach(function(l){
      var lg = g.append("g");
      var t = lg.append("text").attr("x", x(l[0])).attr("y", y(l[1])).attr("dy", "0.35em")
        .attr("text-anchor", "middle").attr("font-size", 18)
        .attr("fill", c.level >= 40 ? "#000" : BLUE).text(c.level);
      var b = t.node().getBBox();
      lg.insert("rect", "text").attr("x", b.x - 1).attr("y", b.y + 3)
        .attr("width", b.width + 2).attr("height", b.height - 6).attr("fill", "#fff");
    });
  });

  // frame
  g.append("line").attr("x1", 0).attr("x2", W).attr("y1", 0.5).attr("y2", 0.5).attr("stroke", "#000");
  g.append("line").attr("x1", 0).attr("x2", W).attr("y1", W + 0.5).attr("y2", W + 0.5).attr("stroke", "#000");
  g.append("line").attr("x1", 0).attr("x2", 0).attr("y1", 0).attr("y2", W).attr("stroke", "#666").attr("stroke-width", 2);
  g.append("line").attr("x1", W).attr("x2", W).attr("y1", 0).attr("y2", W).attr("stroke", "#666").attr("stroke-width", 2);

  // axis titles
  g.append("text").attr("x", x(0)).attr("y", W + 47).attr("text-anchor", "middle")
    .attr("font-size", 14.5).text("Re  z");
  g.append("text").attr("transform", "translate(-59," + y(0) + ") rotate(-90)")
    .attr("text-anchor", "middle").attr("font-size", 14.5).text("Im  z");

  // panel letter
  g.append("text").attr("x", x(letterPos[i][0])).attr("y", y(letterPos[i][1])).attr("dy", "0.35em")
    .attr("text-anchor", "middle").attr("font-size", 34).attr("font-style", "italic")
    .text(panelNames[i]);
});
</script>
</body></html>
